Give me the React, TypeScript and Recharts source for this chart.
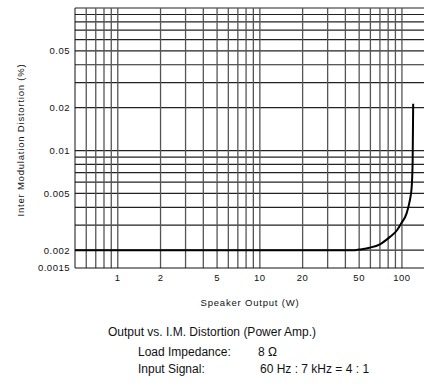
import { LineChart, Line, XAxis, YAxis, ReferenceLine } from 'recharts';

// speaker output (W) vs I.M. distortion (%)
const outputW = [0.5, 1, 10, 40, 47, 50, 59, 70, 82, 92, 99, 108, 113, 117, 119, 120];
const imdPct = [0.002, 0.002, 0.002, 0.002, 0.002, 0.00202, 0.00208, 0.0022, 0.00247, 0.00275, 0.00309, 0.00364, 0.00435, 0.00546, 0.00858, 0.0213];

const xTicks = [1, 2, 5, 10, 20, 50, 100];
const yTicks = [0.0015, 0.002, 0.005, 0.01, 0.02, 0.05];

const xGrid = [0.6, 0.7, 0.8, 0.9, 1, 2, 3, 4, 5, 6, 7, 8, 9, 10, 20, 30, 40, 50, 60, 70, 80, 90, 100];
const yGrid = [
  0.002, 0.003, 0.004, 0.005, 0.006, 0.007, 0.008, 0.009,
  0.01, 0.02, 0.03, 0.04, 0.05, 0.06, 0.07, 0.08, 0.09, 0.1,
];

const data = outputW.map((w, i) => ({ w, imd: imdPct[i] }));

const font = '"Liberation Sans", Arial, sans-serif';
const tickStyle = { fontSize: 9.5, fill: '#111', fontFamily: font, letterSpacing: 0.5 };

export default function App() {
  return (
    <div style={{ position: 'absolute', left: 0, top: 0, width: 424, height: 386, background: '#fff', fontFamily: font }}>
      <LineChart width={424} height={386} data={data} margin={{ top: 8, right: 0, bottom: 88, left: 0 }}>
        <XAxis
          dataKey="w"
          type="number"
          scale="log"
          domain={[0.5, 143]}
          allowDataOverflow
          ticks={xTicks}
          tickLine={false}
          tickSize={6}
          tickMargin={0}
          height={30}
          stroke="#111"
          tick={tickStyle}
        />
        <YAxis
          dataKey="imd"
          type="number"
          scale="log"
          domain={[0.0015, 0.1]}
          allowDataOverflow
          ticks={yTicks}
          tickLine={false}
          tickSize={5}
          tickMargin={0}
          width={75}
          stroke="#111"
          tick={tickStyle}
        />
        {yGrid.map((v) => (
          <ReferenceLine key={'y' + v} y={v} stroke="#222" strokeWidth={1.2} />
        ))}
        {xGrid.map((v) => (
          <ReferenceLine key={'x' + v} x={v} stroke="#555" strokeWidth={1.3} />
        ))}
        <Line
          dataKey="imd"
          type="monotone"
          stroke="#000"
          strokeWidth={2}
          dot={false}
          isAnimationActive={false}
        />
      </LineChart>

      <div
        style={{
          position: 'absolute',
          left: 20,
          top: 140,
          transform: 'translate(-50%, -50%) rotate(-90deg)',
          whiteSpace: 'nowrap',
          fontSize: 9.5,
          letterSpacing: 0.8,
          color: '#111',
        }}
      >
        Inter Modulation Distortion (%)
      </div>
      <div
        style={{
          position: 'absolute',
          left: 250,
          top: 302,
          transform: 'translate(-50%, -50%)',
          whiteSpace: 'nowrap',
          fontSize: 9.5,
          letterSpacing: 0.8,
          color: '#111',
        }}
      >
        Speaker Output (W)
      </div>

      <div style={{ position: 'absolute', left: 108, top: 325, fontSize: 12, color: '#111', whiteSpace: 'nowrap' }}>
        Output vs. I.M. Distortion (Power Amp.)
      </div>
      <div style={{ position: 'absolute', left: 138, top: 345, fontSize: 12, color: '#111', whiteSpace: 'nowrap' }}>
        Load Impedance:
      </div>
      <div style={{ position: 'absolute', left: 258, top: 345, fontSize: 12, color: '#111', whiteSpace: 'nowrap' }}>
        8 Ω
      </div>
      <div style={{ position: 'absolute', left: 138, top: 362, fontSize: 12, color: '#111', whiteSpace: 'nowrap' }}>
        Input Signal:
      </div>
      <div style={{ position: 'absolute', left: 260, top: 362, fontSize: 12, color: '#111', whiteSpace: 'nowrap' }}>
        60 Hz : 7 kHz = 4 : 1
      </div>
    </div>
  );
}
